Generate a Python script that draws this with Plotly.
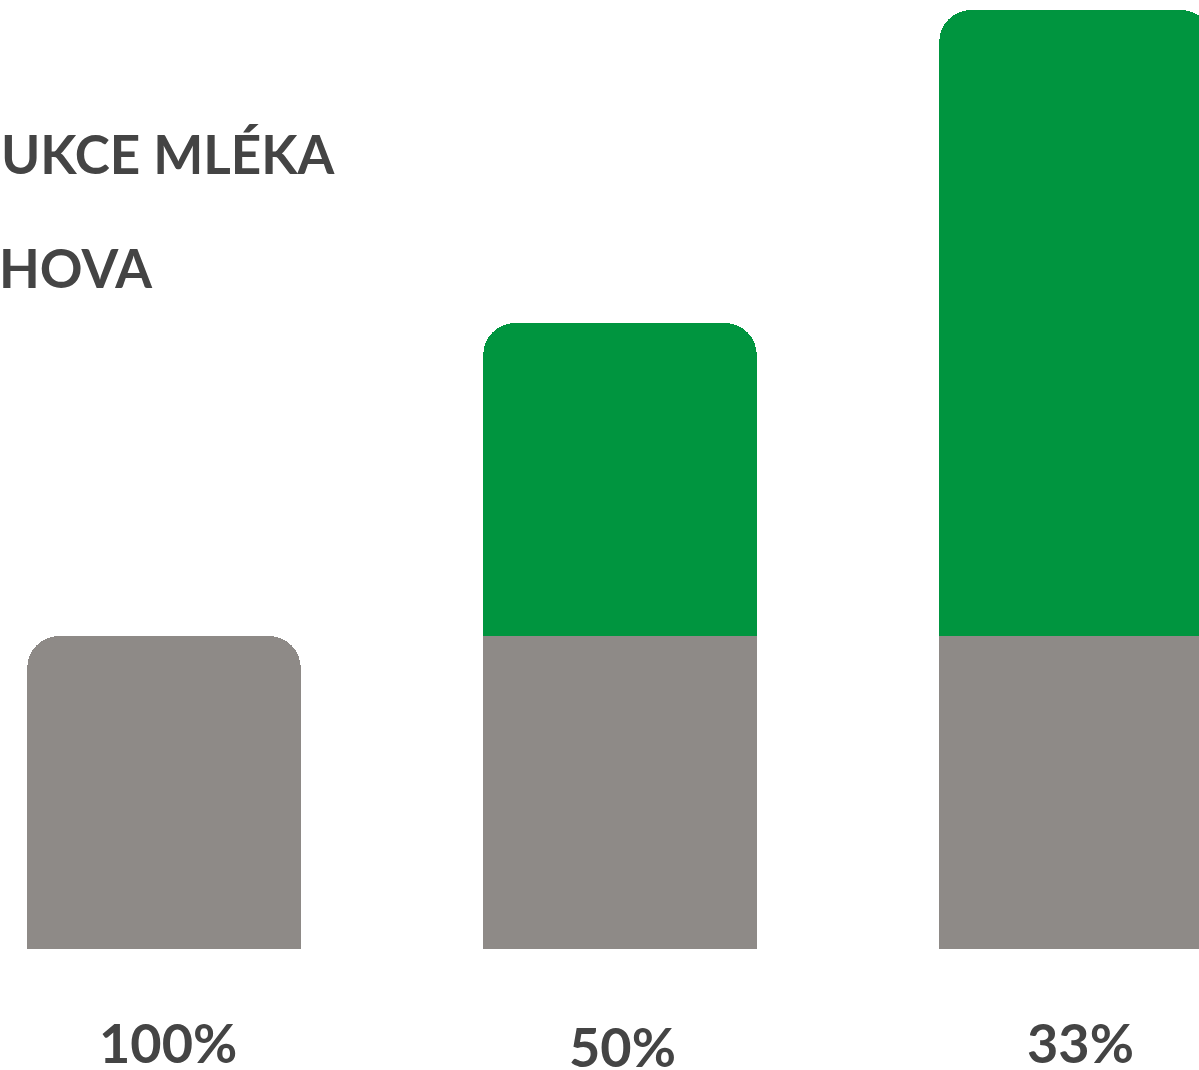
import plotly.graph_objects as go

# data
labels = ["100%", "50%", "33%"]
base_vals = [1, 1, 1]
extra_vals = [0, 1, 2]
title_lines = ["UKCE MLÉKA", "HOVA"]

GRAY = "#8e8a87"
GREEN = "#00953f"
TEXT = "#444444"
FONT = "Lato"

x = list(range(len(labels)))

fig = go.Figure()
fig.add_trace(go.Bar(x=x, y=base_vals, marker=dict(color=GRAY, line=dict(width=0)),
                     width=0.6, hoverinfo="skip"))
fig.add_trace(go.Bar(x=x, y=extra_vals, marker=dict(color=GREEN, line=dict(width=0)),
                     width=0.6, hoverinfo="skip"))

# percentage labels under bars (small nudges to match the picture)
xshifts = [4, 2, 4]
yshifts = [0, -4, 0]
for i, lab in enumerate(labels):
    fig.add_annotation(x=x[i], y=-0.30, text=lab, showarrow=False,
                       xanchor="center", yanchor="middle",
                       xshift=xshifts[i], yshift=yshifts[i],
                       font=dict(family=FONT, size=54, color=TEXT, weight="bold"))

# cropped heading at top left
title_x = [338 / 1199, 155 / 1199]
title_y = [154 / 1070, 267 / 1070]
for t, tx, ty in zip(title_lines, title_x, title_y):
    fig.add_annotation(xref="paper", yref="paper", x=tx, y=1 - ty,
                       text=t, showarrow=False,
                       xanchor="right", yanchor="middle",
                       font=dict(family=FONT, size=53, color=TEXT, weight="bold"))

fig.update_layout(
    width=1199, height=1070,
    margin=dict(l=0, r=0, t=0, b=0),
    barmode="stack", barcornerradius=32,
    showlegend=False,
    plot_bgcolor="white", paper_bgcolor="white",
    xaxis=dict(range=[-164 / 456, 1035 / 456], visible=False, fixedrange=True),
    yaxis=dict(range=[-121 / 313, 949 / 313], visible=False, fixedrange=True),
)

fig.write_html("out.html", config={"displayModeBar": False},
               post_script="document.body.style.margin='0';document.body.style.overflow='hidden';")
